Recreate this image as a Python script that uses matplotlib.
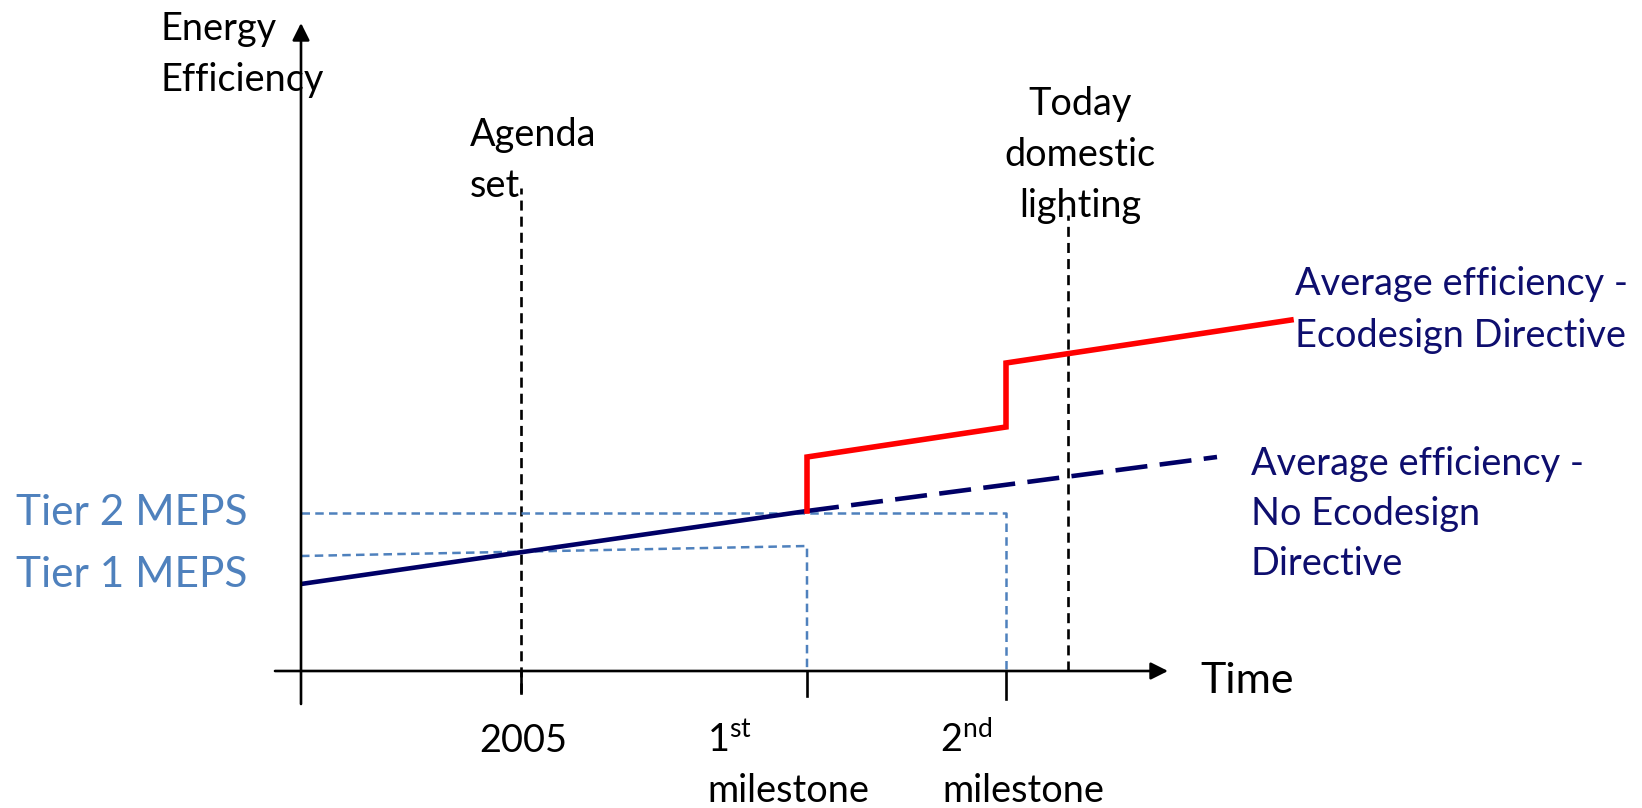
import matplotlib
matplotlib.use('Agg')
import matplotlib.pyplot as plt

plt.rcParams['font.family'] = ['Lato', 'DejaVu Sans']
plt.rcParams['mathtext.fontset'] = 'custom'
plt.rcParams['mathtext.rm'] = 'Lato'
plt.rcParams['mathtext.default'] = 'regular'

# ── Schematic data (arbitrary units, origin where the axes cross) ──
event_names = ['2005', '1st milestone', '2nd milestone', 'Today']
event_t     = [220, 506, 705, 767]

# efficiency path before the first milestone
base_t   = [0, 506]
base_eff = [87, 160]
# business as usual: no Ecodesign Directive
bau_t   = [506, 916]
bau_eff = [160, 214]
# with the Ecodesign Directive (steps at the two milestones)
eco_t   = [506, 506, 705, 705, 990]
eco_eff = [160, 214, 244, 308, 351]
# minimum efficiency performance standards
tier1_eff = [115, 125]
tier2_eff = 158

NAVY = '#000066'
TXT_NAVY = '#0E0E6E'
RED = '#FF0000'
BLUE = '#4F81BD'

t05, t1, t2, t_today = event_t

fig = plt.figure(figsize=(16.42, 8.08), dpi=100)
ax = fig.add_axes([0, 0, 1, 1])
ax.set_xlim(-301, 1341)
ax.set_ylim(-137, 671)
ax.axis('off')

# ── Axes with arrow heads ─────────────────────────────────────
arrow = dict(arrowstyle='-|>', lw=1.9, color='black', mutation_scale=26,
             shrinkA=0, shrinkB=0)
ax.annotate('', xy=(0, 648), xytext=(0, -33), arrowprops=arrow)
ax.annotate('', xy=(867, 0), xytext=(-26, 0), arrowprops=arrow)

# ── Event markers ─────────────────────────────────────────────
black_dash = (0, (3.8, 2.3))
ax.plot([t05, t05], [-22, 483], color='black', lw=1.9, linestyle=black_dash)
ax.plot([t05, t05], [-22, 0], color='black', lw=1.9)
ax.plot([t_today, t_today], [0, 456], color='black', lw=1.9, linestyle=black_dash)
ax.plot([t1, t1], [-25, 0], color='black', lw=1.9)
ax.plot([t2, t2], [-28, 0], color='black', lw=1.9)

# ── MEPS levels ───────────────────────────────────────────────
blue_dash = (0, (3.4, 2.1))
ax.plot([0, t1, t1], [tier1_eff[0], tier1_eff[1], 0], color=BLUE, lw=1.8,
        linestyle=blue_dash)
ax.plot([0, t2, t2], [tier2_eff, tier2_eff, 0], color=BLUE, lw=1.8,
        linestyle=blue_dash)

# ── Efficiency paths ──────────────────────────────────────────
ax.plot(base_t, base_eff, color=NAVY, lw=3.3, solid_capstyle='butt')
ax.plot(bau_t, bau_eff, color=NAVY, lw=3.3, linestyle=(0, (7, 2.7)))
ax.plot(eco_t, eco_eff, color=RED, lw=4.0, solid_joinstyle='miter', zorder=5)

# ── Labels ────────────────────────────────────────────────────
fs = 27.3
ax.text(-140, 631, 'Energy', fontsize=fs, va='baseline')
ax.text(-140, 580, 'Efficiency', fontsize=fs, va='baseline')
ax.text(899, -22, 'Time', fontsize=31, va='baseline')

ax.text(169, 525, 'Agenda', fontsize=fs, va='baseline')
ax.text(169, 474, 'set', fontsize=fs, va='baseline')

for y, s in zip([556, 505, 454], ['Today', 'domestic', 'lighting']):
    ax.text(779, y, s, fontsize=fs, va='baseline', ha='center')

ax.text(t05 + 2, -81, event_names[0], fontsize=fs, va='baseline', ha='center')
ax.text(406, -81, '1$^{st}$', fontsize=fs, va='baseline')
ax.text(406, -131, 'milestone', fontsize=fs, va='baseline')
ax.text(639, -81, '2$^{nd}$', fontsize=fs, va='baseline')
ax.text(641, -131, 'milestone', fontsize=fs, va='baseline')

ax.text(-285, 146, 'Tier 2 MEPS', fontsize=30.5, va='baseline', color=BLUE)
ax.text(-285, 84, 'Tier 1 MEPS', fontsize=30.5, va='baseline', color=BLUE)

for y, s in zip([376, 324], ['Average efficiency -', 'Ecodesign Directive']):
    ax.text(994, y, s, fontsize=fs, va='baseline', color=TXT_NAVY)
for y, s in zip([196, 146, 96], ['Average efficiency -', 'No Ecodesign', 'Directive']):
    ax.text(950, y, s, fontsize=fs, va='baseline', color=TXT_NAVY)

plt.savefig('out.png', dpi=100)
plt.close()
print("Saved out.png")
